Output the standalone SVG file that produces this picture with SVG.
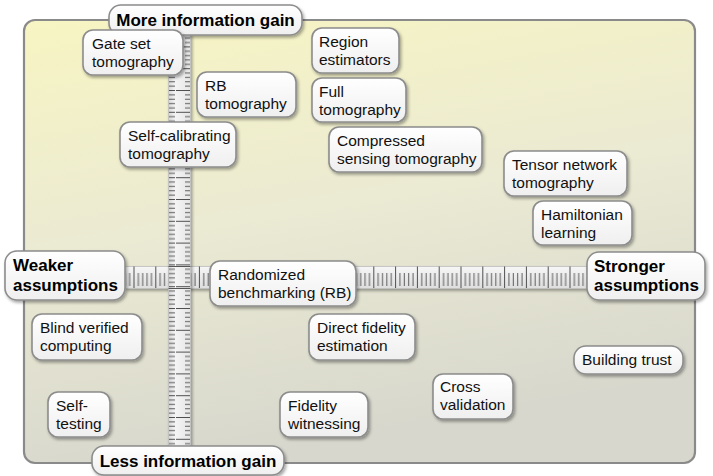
<svg xmlns="http://www.w3.org/2000/svg" width="713" height="476" viewBox="0 0 713 476">
<defs>
<linearGradient id="bg" x1="0" y1="0" x2="0.25" y2="1">
<stop offset="0" stop-color="#f7f5c2"/>
<stop offset="0.5" stop-color="#ebead3"/>
<stop offset="1" stop-color="#d7d7cd"/>
</linearGradient>
<linearGradient id="nodeg" x1="0" y1="0" x2="0" y2="1">
<stop offset="0" stop-color="#ffffff"/>
<stop offset="1" stop-color="#efefef"/>
</linearGradient>
<linearGradient id="rulv" x1="0" y1="0" x2="1" y2="0">
<stop offset="0" stop-color="#d8d8d8"/>
<stop offset="0.3" stop-color="#f4f4f4"/>
<stop offset="1" stop-color="#e6e6e6"/>
</linearGradient>
<linearGradient id="rulh" x1="0" y1="0" x2="0" y2="1">
<stop offset="0" stop-color="#f6f6f6"/>
<stop offset="1" stop-color="#dedede"/>
</linearGradient>
<pattern id="tickv" x="0" y="90" width="22" height="21.8" patternUnits="userSpaceOnUse">
<rect x="0" y="0" width="21" height="1" fill="#333"/>
<rect x="9" y="4.36" width="12" height="1" fill="#444"/>
<rect x="9" y="8.72" width="12" height="1" fill="#444"/>
<rect x="9" y="13.08" width="12" height="1" fill="#444"/>
<rect x="9" y="17.44" width="12" height="1" fill="#444"/>
</pattern>
<pattern id="tickh" x="373.3" y="0" width="21.8" height="22" patternUnits="userSpaceOnUse">
<rect x="0" y="0" width="1" height="22" fill="#333"/>
<rect x="4.36" y="9" width="1" height="13" fill="#444"/>
<rect x="8.72" y="9" width="1" height="13" fill="#444"/>
<rect x="13.08" y="9" width="1" height="13" fill="#444"/>
<rect x="17.44" y="9" width="1" height="13" fill="#444"/>
</pattern>
<filter id="sh" x="-20%" y="-20%" width="140%" height="150%">
<feDropShadow dx="1.5" dy="2" stdDeviation="1.5" flood-color="#000" flood-opacity="0.35"/>
</filter>
</defs>
<style>
.node rect{fill:url(#nodeg);stroke:#8c8c8c;stroke-width:1.6;filter:url(#sh)}
.node text{font-family:"Liberation Sans",Arial,sans-serif;font-size:15.5px;fill:#111}
.axis text{font-family:"Liberation Sans",Arial,sans-serif;font-size:17px;font-weight:bold;fill:#000}
</style>
<rect x="24" y="20" width="671" height="443" rx="11" fill="url(#bg)" stroke="#8a8a8a" stroke-width="2.2"/>

<g id="rulers">
<g filter="url(#sh)">
<rect x="125" y="266.5" width="462" height="22" fill="url(#rulh)" stroke="#bdbdbd" stroke-width="0.8"/>
</g>
<rect x="126" y="266.5" width="460" height="21.5" fill="url(#tickh)" opacity="0.85"/>
<g filter="url(#sh)">
<rect x="168.5" y="34" width="22" height="414" fill="url(#rulv)" stroke="#bdbdbd" stroke-width="0.8"/>
</g>
<rect x="169" y="36" width="21" height="410" fill="url(#tickv)" opacity="0.85"/>
<line x1="168.5" y1="266.5" x2="190.5" y2="266.5" stroke="#555" stroke-width="1"/>
<line x1="168.5" y1="288.5" x2="190.5" y2="288.5" stroke="#555" stroke-width="1"/>
</g>

<g id="more-info" class="node axis"><rect x="109" y="5" width="193" height="30" rx="12"/><text x="205.5" y="26" text-anchor="middle">More information gain</text></g>
<g id="less-info" class="node axis"><rect x="92" y="446" width="192" height="29" rx="12"/><text x="188" y="467" text-anchor="middle">Less information gain</text></g>
<g id="weaker" class="node axis"><rect x="5" y="251" width="120" height="49" rx="12"/><text x="13" y="271">Weaker</text><text x="13" y="290.5">assumptions</text></g>
<g id="stronger" class="node axis"><rect x="587" y="252" width="118" height="48" rx="12"/><text x="594" y="271.5">Stronger</text><text x="594" y="291">assumptions</text></g>

<g id="gate-set" class="node"><rect x="83" y="30" width="100" height="45" rx="10"/><text x="92" y="49">Gate set</text><text x="92" y="67">tomography</text></g>
<g id="rb-tomo" class="node"><rect x="197" y="72" width="99" height="45" rx="10"/><text x="205" y="91">RB</text><text x="205" y="109">tomography</text></g>
<g id="self-cal" class="node"><rect x="120" y="122" width="116" height="45" rx="10"/><text x="128" y="141">Self-calibrating</text><text x="128" y="159">tomography</text></g>
<g id="region" class="node"><rect x="312" y="28" width="87" height="45" rx="10"/><text x="319" y="47">Region</text><text x="319" y="65">estimators</text></g>
<g id="full" class="node"><rect x="312" y="78" width="94" height="44" rx="10"/><text x="319" y="97">Full</text><text x="319" y="115">tomography</text></g>
<g id="compressed" class="node"><rect x="329" y="127" width="153" height="45" rx="10"/><text x="337" y="146">Compressed</text><text x="337" y="164">sensing tomography</text></g>
<g id="tensor" class="node"><rect x="504" y="151" width="123" height="45" rx="10"/><text x="512" y="170">Tensor network</text><text x="512" y="188">tomography</text></g>
<g id="hamiltonian" class="node"><rect x="533" y="201" width="99" height="44" rx="10"/><text x="541" y="220">Hamiltonian</text><text x="541" y="238">learning</text></g>
<g id="rb" class="node"><rect x="210" y="261" width="146" height="45" rx="10"/><text x="218" y="280">Randomized</text><text x="218" y="298">benchmarking (RB)</text></g>
<g id="blind" class="node"><rect x="32" y="314" width="110" height="46" rx="10"/><text x="40" y="333">Blind verified</text><text x="40" y="351">computing</text></g>
<g id="dfe" class="node"><rect x="309" y="314" width="106" height="46" rx="10"/><text x="317" y="333">Direct fidelity</text><text x="317" y="351">estimation</text></g>
<g id="trust" class="node"><rect x="574" y="346" width="109" height="28" rx="12"/><text x="582" y="365">Building trust</text></g>
<g id="cross" class="node"><rect x="433" y="374" width="80" height="45" rx="10"/><text x="440" y="392">Cross</text><text x="440" y="410">validation</text></g>
<g id="witness" class="node"><rect x="280" y="392" width="88" height="45" rx="10"/><text x="288" y="411">Fidelity</text><text x="288" y="429">witnessing</text></g>
<g id="self-test" class="node"><rect x="48" y="392" width="62" height="45" rx="10"/><text x="56" y="411">Self-</text><text x="56" y="429">testing</text></g>
</svg>
